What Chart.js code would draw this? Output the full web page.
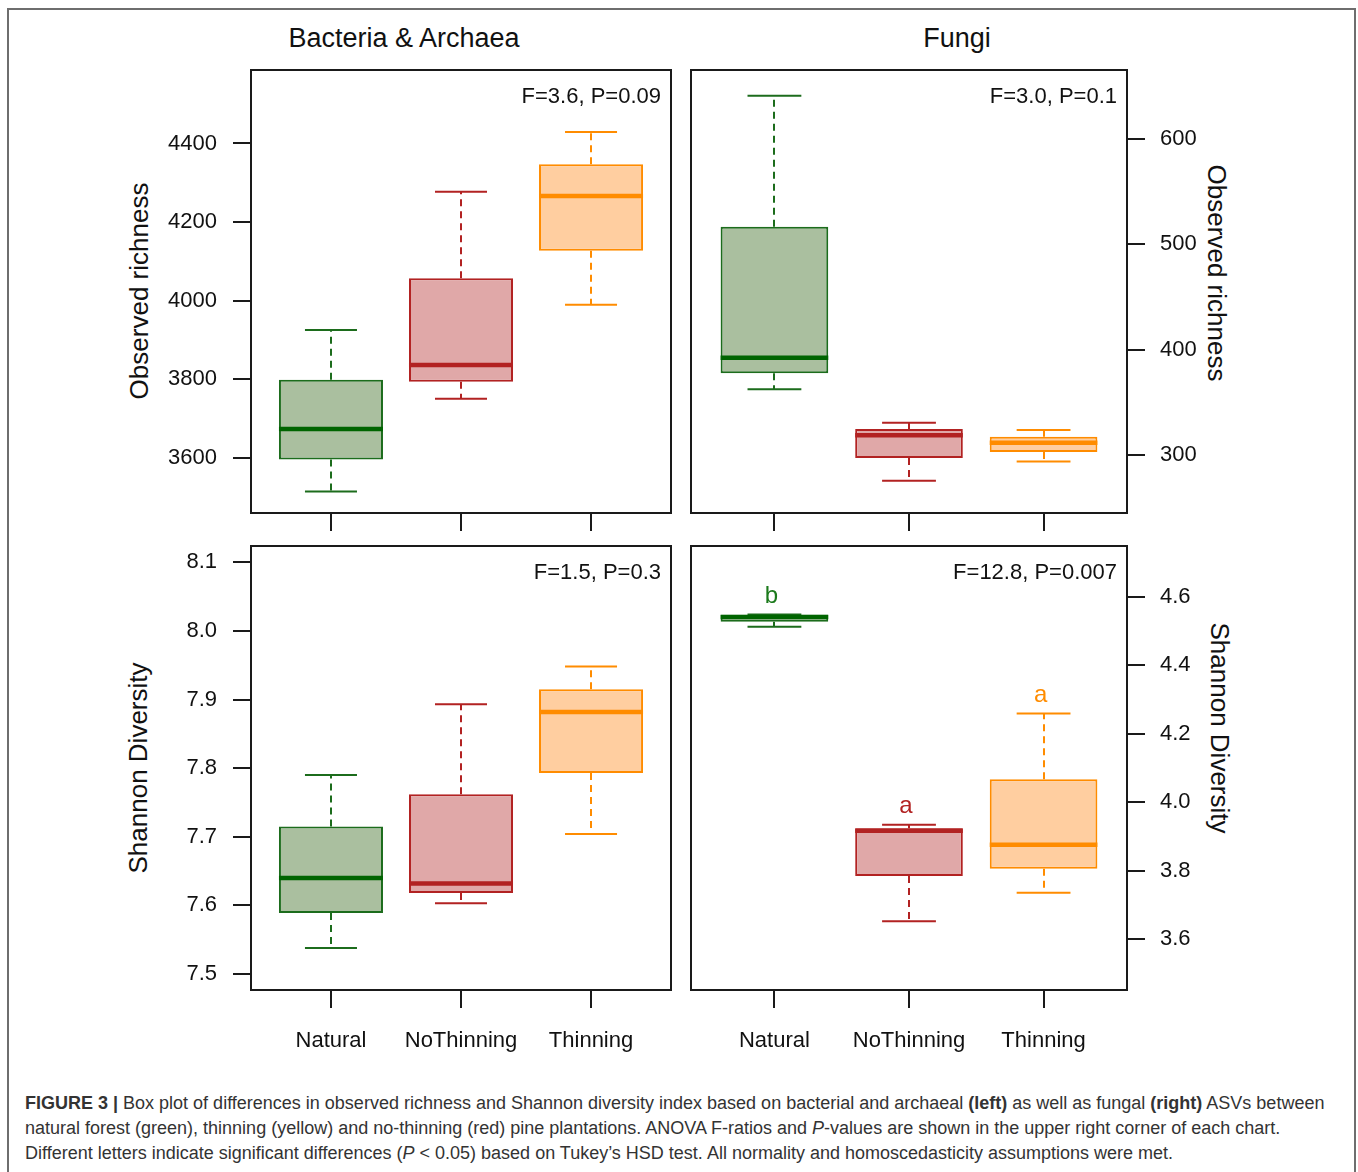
<!DOCTYPE html>
<html>
<head>
<meta charset="utf-8">
<script src="https://cdn.jsdelivr.net/npm/chart.js@4.4.1/dist/chart.umd.min.js"></script>
<style>
html,body{margin:0;padding:0;background:#fff;}
#root{position:relative;width:1358px;height:1172px;overflow:hidden;font-family:"Liberation Sans",Arial,Helvetica,sans-serif;background:#fff;}
canvas{position:absolute;}
.frame{position:absolute;left:7px;top:8px;width:1345px;height:1200px;border:2px solid #6e6e6e;border-bottom:none;}
.t{position:absolute;white-space:nowrap;line-height:1;color:#111;transform:translate(-50%,-50%);}
.title{font-size:27px;}
.ylab{font-size:26px;}
.caption{position:absolute;left:25px;top:1091px;font-size:18px;line-height:25px;color:#333;white-space:nowrap;}
</style>
</head>
<body>
<div id="root">
  <div class="frame"></div>
  <div class="t title" style="left:404px;top:38px;">Bacteria &amp; Archaea</div>
  <div class="t title" style="left:957px;top:38px;">Fungi</div>
  <div class="t ylab" style="left:139px;top:291px;transform:translate(-50%,-50%) rotate(-90deg);">Observed richness</div>
  <div class="t ylab" style="left:138px;top:768px;transform:translate(-50%,-50%) rotate(-90deg);">Shannon Diversity</div>
  <div class="t ylab" style="left:1217px;top:273px;transform:translate(-50%,-50%) rotate(90deg);">Observed richness</div>
  <div class="t ylab" style="left:1220px;top:728px;transform:translate(-50%,-50%) rotate(90deg);">Shannon Diversity</div>
  <canvas id="c1"></canvas>
  <canvas id="c2"></canvas>
  <canvas id="c3"></canvas>
  <canvas id="c4"></canvas>
  <div class="caption">
    <div><b>FIGURE 3 |</b> Box plot of differences in observed richness and Shannon diversity index based on bacterial and archaeal <b>(left)</b> as well as fungal <b>(right)</b> ASVs between</div>
    <div>natural forest (green), thinning (yellow) and no-thinning (red) pine plantations. ANOVA F-ratios and <i>P</i>-values are shown in the upper right corner of each chart.</div>
    <div>Different letters indicate significant differences (<i>P</i> &lt; 0.05) based on Tukey’s HSD test. All normality and homoscedasticity assumptions were met.</div>
  </div>
</div>
<script>
// ---------- DATA ----------
const categories = ['Natural', 'NoThinning', 'Thinning'];

// Bacteria & Archaea - Observed richness
const bacRichMin = [3514, 3750, 3989];
const bacRichQ1  = [3595, 3793, 4127];
const bacRichMed = [3673, 3836, 4266];
const bacRichQ3  = [3798, 4057, 4347];
const bacRichMax = [3925, 4277, 4429];
const bacRichTicks = [3600, 3800, 4000, 4200, 4400];
const bacRichStat = 'F=3.6, P=0.09';

// Fungi - Observed richness
const funRichMin = [362.4, 275.6, 294.0];
const funRichQ1  = [377.6, 297.1, 302.8];
const funRichMed = [392.4, 318.7, 311.7];
const funRichQ3  = [516.7, 324.7, 317.4];
const funRichMax = [641.0, 330.7, 323.7];
const funRichTicks = [300, 400, 500, 600];
const funRichStat = 'F=3.0, P=0.1';

// Bacteria & Archaea - Shannon diversity
const bacShanMin = [7.538, 7.603, 7.704];
const bacShanQ1  = [7.589, 7.618, 7.793];
const bacShanMed = [7.640, 7.632, 7.882];
const bacShanQ3  = [7.715, 7.762, 7.915];
const bacShanMax = [7.790, 7.893, 7.948];
const bacShanTicks = [7.5, 7.6, 7.7, 7.8, 7.9, 8.0, 8.1];
const bacShanStat = 'F=1.5, P=0.3';

// Fungi - Shannon diversity
const funShanMin = [4.512, 3.653, 3.736];
const funShanQ1  = [4.527, 3.785, 3.806];
const funShanMed = [4.541, 3.917, 3.876];
const funShanQ3  = [4.547, 3.924, 4.067];
const funShanMax = [4.548, 3.934, 4.259];
const funShanTicks = [3.6, 3.8, 4.0, 4.2, 4.4, 4.6];
const funShanStat = 'F=12.8, P=0.007';
const funShanLetters = ['b', 'a', 'a'];

// ---------- STYLES ----------
const FONT = '"Liberation Sans", Arial, Helvetica, sans-serif';
const fillColors   = ['#aabf9f', '#e0a8a8', '#ffcea0'];
const borderColors = ['#1c6c1c', '#b22222', '#ff8c00'];
const medianColors = ['#006400', '#b22222', '#ff8c00'];
const letterColors = ['#1c7a1c', '#b22222', '#ff8c00'];

const boxPlugin = {
  id: 'boxExtras',
  beforeDatasetsDraw(chart) {
    const o = chart.options.plugins.boxExtras;
    const {ctx} = chart, x = chart.scales.x, y = chart.scales.y;
    ctx.save();
    ctx.lineWidth = 2;
    ctx.setLineDash([7, 5]);
    o.min.forEach((mn, i) => {
      const cx = Math.round(x.getPixelForValue(i + 1));
      ctx.strokeStyle = o.borderColors[i];
      ctx.beginPath();
      ctx.moveTo(cx, y.getPixelForValue(o.q3[i]));
      ctx.lineTo(cx, y.getPixelForValue(o.max[i]));
      ctx.moveTo(cx, y.getPixelForValue(o.q1[i]));
      ctx.lineTo(cx, y.getPixelForValue(mn));
      ctx.stroke();
    });
    ctx.restore();
  },
  afterDatasetsDraw(chart) {
    const o = chart.options.plugins.boxExtras;
    const {ctx} = chart, x = chart.scales.x, y = chart.scales.y;
    ctx.save();
    o.min.forEach((mn, i) => {
      const c = i + 1;
      ctx.strokeStyle = o.borderColors[i];
      ctx.lineWidth = 2;
      ctx.setLineDash([]);
      ctx.beginPath();
      const cl = x.getPixelForValue(c - o.capHalf), cr = x.getPixelForValue(c + o.capHalf);
      ctx.moveTo(cl, y.getPixelForValue(o.max[i])); ctx.lineTo(cr, y.getPixelForValue(o.max[i]));
      ctx.moveTo(cl, y.getPixelForValue(mn)); ctx.lineTo(cr, y.getPixelForValue(mn));
      ctx.stroke();
      const bl = x.getPixelForValue(c - o.boxHalf), br = x.getPixelForValue(c + o.boxHalf);
      ctx.strokeStyle = o.medianColors[i];
      ctx.lineWidth = 4.5;
      ctx.beginPath();
      ctx.moveTo(bl, y.getPixelForValue(o.med[i]));
      ctx.lineTo(br, y.getPixelForValue(o.med[i]));
      ctx.stroke();
      if (o.letters && o.letters[i]) {
        ctx.fillStyle = o.letterColors[i];
        ctx.font = '24px ' + FONT;
        ctx.textAlign = 'center';
        ctx.textBaseline = 'middle';
        ctx.fillText(o.letters[i], x.getPixelForValue(c) - 3, y.getPixelForValue(o.max[i]) - 18);
      }
    });
    ctx.restore();
  },
  afterDraw(chart) {
    const o = chart.options.plugins.boxExtras;
    const {ctx, chartArea: a} = chart;
    ctx.save();
    ctx.strokeStyle = '#1a1a1a';
    ctx.lineWidth = 2;
    ctx.strokeRect(a.left, a.top, a.right - a.left, a.bottom - a.top);
    ctx.fillStyle = '#111';
    ctx.font = '22px ' + FONT;
    ctx.textAlign = 'right';
    ctx.textBaseline = 'middle';
    ctx.fillText(o.stat, a.right - 10, a.top + 27);
    ctx.restore();
  }
};

function makeChart(id, p) {
  const cv = document.getElementById(id);
  const cw = p.canvas.r - p.canvas.l, ch = p.canvas.b - p.canvas.t;
  cv.width = cw; cv.height = ch;
  cv.style.left = p.canvas.l + 'px'; cv.style.top = p.canvas.t + 'px';
  cv.style.width = cw + 'px'; cv.style.height = ch + 'px';
  const leftAxis = p.side === 'left';
  const yWidth = leftAxis ? p.area.l - p.canvas.l : p.canvas.r - p.area.r;
  const xHeight = p.canvas.b - p.area.b;
  new Chart(cv, {
    type: 'bar',
    data: {
      datasets: [{
        data: categories.map((c, i) => ({x: i + 1, y: [p.q1[i], p.q3[i]]})),
        backgroundColor: fillColors,
        borderColor: borderColors,
        borderWidth: 2,
        borderSkipped: false,
        barPercentage: 0.8,
        categoryPercentage: 1.0
      }]
    },
    options: {
      responsive: false,
      animation: false,
      events: [],
      layout: {padding: {
        left: leftAxis ? 0 : p.area.l - p.canvas.l,
        right: leftAxis ? p.canvas.r - p.area.r : 0,
        top: p.area.t - p.canvas.t,
        bottom: 0
      }},
      plugins: {
        legend: {display: false},
        tooltip: {enabled: false},
        boxExtras: {
          min: p.min, q1: p.q1, med: p.med, q3: p.q3, max: p.max,
          stat: p.stat, letters: p.letters,
          capHalf: 0.2, boxHalf: 0.4,
          borderColors, medianColors, letterColors
        }
      },
      scales: {
        x: {
          type: 'linear',
          offset: false,
          min: 1 - p.xPad, max: 3 + p.xPad,
          afterBuildTicks: s => { s.ticks = categories.map((c, i) => ({value: i + 1})); },
          afterFit: s => { s.height = xHeight; },
          grid: {display: true, offset: false, drawOnChartArea: false, drawTicks: true, tickLength: 18, color: '#1a1a1a', lineWidth: 2},
          border: {display: false},
          ticks: {
            display: p.showX,
            padding: 20,
            maxRotation: 0,
            autoSkip: false,
            color: '#111',
            font: {family: FONT, size: 22},
            callback: v => categories[Math.round(v) - 1]
          }
        },
        y: {
          type: 'linear',
          position: p.side,
          min: p.yMin, max: p.yMax,
          afterBuildTicks: s => { s.ticks = p.ticks.map(v => ({value: v})); },
          afterFit: s => { s.width = yWidth; },
          grid: {display: true, drawOnChartArea: false, drawTicks: true, tickLength: 18, color: '#1a1a1a', lineWidth: 2},
          border: {display: false},
          ticks: {
            padding: leftAxis ? 16 : 15,
            color: '#111',
            font: {family: FONT, size: 22},
            callback: v => p.decimals ? Number(v).toFixed(p.decimals) : String(v)
          }
        }
      }
    },
    plugins: [boxPlugin]
  });
}

makeChart('c1', {
  canvas: {l: 120, t: 25, r: 680, b: 555}, area: {l: 251, t: 70, r: 671, b: 513},
  side: 'left', xPad: 0.615, showX: false,
  min: bacRichMin, q1: bacRichQ1, med: bacRichMed, q3: bacRichQ3, max: bacRichMax,
  ticks: bacRichTicks, yMin: 3459, yMax: 4587, decimals: 0, stat: bacRichStat, letters: null
});
makeChart('c2', {
  canvas: {l: 681, t: 25, r: 1205, b: 555}, area: {l: 691, t: 70, r: 1127, b: 513},
  side: 'right', xPad: 0.62, showX: false,
  min: funRichMin, q1: funRichQ1, med: funRichMed, q3: funRichQ3, max: funRichMax,
  ticks: funRichTicks, yMin: 245, yMax: 665.5, decimals: 0, stat: funRichStat, letters: null
});
makeChart('c3', {
  canvas: {l: 120, t: 500, r: 680, b: 1075}, area: {l: 251, t: 546, r: 671, b: 990},
  side: 'left', xPad: 0.615, showX: true,
  min: bacShanMin, q1: bacShanQ1, med: bacShanMed, q3: bacShanQ3, max: bacShanMax,
  ticks: bacShanTicks, yMin: 7.4767, yMax: 8.1238, decimals: 1, stat: bacShanStat, letters: null
});
makeChart('c4', {
  canvas: {l: 681, t: 500, r: 1205, b: 1075}, area: {l: 691, t: 546, r: 1127, b: 990},
  side: 'right', xPad: 0.62, showX: true,
  min: funShanMin, q1: funShanQ1, med: funShanMed, q3: funShanQ3, max: funShanMax,
  ticks: funShanTicks, yMin: 3.452, yMax: 4.748, decimals: 1, stat: funShanStat, letters: funShanLetters
});
</script>
</body>
</html>
